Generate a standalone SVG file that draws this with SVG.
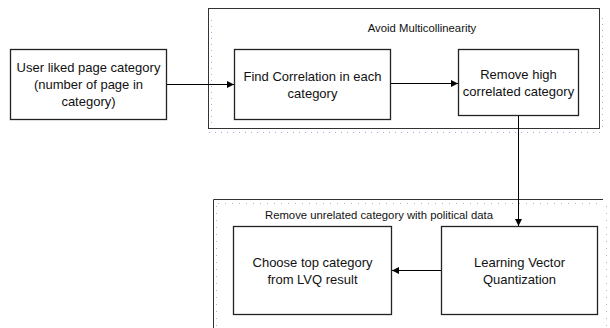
<svg xmlns="http://www.w3.org/2000/svg" width="610" height="328" viewBox="0 0 610 328">
<defs>
<marker id="arr" markerWidth="8" markerHeight="8" refX="7" refY="4" orient="auto" markerUnits="userSpaceOnUse">
<path d="M0,0.5 L7,4 L0,7.5 Z" fill="#000"/>
</marker>
<style>
.box{fill:#fff;stroke:#222;stroke-width:1.3}
.cont{fill:none;stroke:#333;stroke-width:1}
.dots{fill:none;stroke:#9fb1e6;stroke-width:1;stroke-dasharray:1 5}
.gdots{fill:none;stroke:#b5b5b5;stroke-width:1;stroke-dasharray:1 6}
.t{font-family:"Liberation Sans",Arial,sans-serif;font-size:13px;fill:#111;text-anchor:middle}
.s{font-family:"Liberation Sans",Arial,sans-serif;font-size:11.3px;fill:#111;text-anchor:middle}
.c{stroke:#000;stroke-width:1;fill:none}
</style>
</defs>
<rect width="610" height="328" fill="#fff"/>
<g id="container-top">
<rect class="cont" x="208.5" y="8.5" width="391" height="120"/>
<path class="dots" d="M209,132.5 H602"/>
<path class="dots" d="M602.5,18 V130"/>
<path class="dots" d="M211.5,20 V126"/>
<text class="s" x="422" y="32">Avoid Multicollinearity</text>
</g>
<g id="container-bottom">
<path class="cont" d="M213.5,328 V199.5 H603"/>
<path class="gdots" d="M218,203.5 H600"/>
<path class="gdots" d="M216.5,206 V328"/>
<path class="gdots" d="M606.5,206 V328"/>
<text class="s" x="379" y="219">Remove unrelated category with political data</text>
</g>
<g id="n-user">
<rect class="box" x="10.5" y="49.5" width="156" height="70"/>
<text class="t" x="88.5" y="72">User liked page category</text>
<text class="t" x="88.5" y="89">(number of page in</text>
<text class="t" x="88.5" y="106">category)</text>
</g>
<g id="n-find">
<rect class="box" x="234.5" y="49.5" width="156" height="70"/>
<text class="t" x="312.5" y="81">Find Correlation in each</text>
<text class="t" x="312.5" y="98">category</text>
</g>
<g id="n-remove">
<rect class="box" x="458.5" y="49.5" width="120" height="66"/>
<text class="t" x="518.5" y="79">Remove high</text>
<text class="t" x="518.5" y="96">correlated category</text>
</g>
<g id="n-choose">
<rect class="box" x="233.5" y="226.5" width="158" height="88"/>
<text class="t" x="312.5" y="267" fill="#333">Choose top category</text>
<text class="t" x="312.5" y="284" fill="#333">from LVQ result</text>
</g>
<g id="n-lvq">
<rect class="box" x="441.5" y="226.5" width="156" height="88"/>
<text class="t" x="519.5" y="267" fill="#333">Learning Vector</text>
<text class="t" x="519.5" y="284" fill="#333">Quantization</text>
</g>
<g id="connectors">
<path class="c" d="M167,84.5 H234" marker-end="url(#arr)"/>
<path class="c" d="M391,83.5 H458" marker-end="url(#arr)"/>
<path class="c" d="M518.5,116 V226" marker-end="url(#arr)"/>
<path class="c" d="M441,270.5 H392" stroke="#444" marker-end="url(#arr)"/>
</g>
</svg>
